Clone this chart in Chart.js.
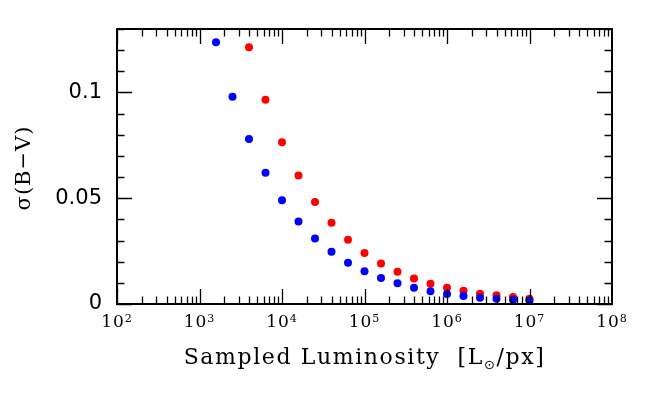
<!DOCTYPE html>
<html>
<head>
<meta charset="utf-8">
<script src="https://cdn.jsdelivr.net/npm/chart.js@4/dist/chart.umd.min.js"></script>
<style>
html, body { margin: 0; padding: 0; background: #fff; }
#wrap { width: 664px; height: 394px; }
</style>
</head>
<body>
<div id="wrap"><canvas id="chartContainer" width="664" height="394"></canvas></div>
<script>
// sampled luminosity (L_sun / px), one point every 0.2 dex
var lumBlue = [1585, 2512, 3981, 6310, 10000, 15849, 25119, 39811, 63096, 100000,
               158489, 251189, 398107, 630957, 1000000, 1584893, 2511886, 3981072, 6309573, 10000000];
var sigmaBlue = [0.1237, 0.098, 0.078, 0.062, 0.049, 0.039, 0.031, 0.0247, 0.0195, 0.0155,
                 0.0123, 0.0098, 0.0077, 0.006, 0.0047, 0.0038, 0.003, 0.0025, 0.002, 0.0016];

var lumRed = [3981, 6310, 10000, 15849, 25119, 39811, 63096, 100000, 158489,
              251189, 398107, 630957, 1000000, 1584893, 2511886, 3981072, 6309573, 10000000];
var sigmaRed = [0.1214, 0.0965, 0.0765, 0.0608, 0.0482, 0.0384, 0.0304, 0.0241, 0.0192,
                0.0153, 0.0121, 0.0096, 0.0077, 0.0063, 0.0049, 0.0041, 0.0033, 0.0025];

// axis ticks
var xDecades = [100, 1000, 10000, 100000, 1000000, 10000000, 100000000];
var xExponents = ['2', '3', '4', '5', '6', '7', '8'];
var yMajorTicks = [0, 0.05, 0.1];
var yTickLabels = ['0', '0.05', '0.1'];

function toPoints(xs, ys) {
    var pts = [];
    for (var i = 0; i < xs.length; i++) {
        pts.push({x: xs[i], y: ys[i]});
    }
    return pts;
}

// frame with inward ticks on all four sides, plus the labels chart.js can't do (superscripts, subscripts)
var frameTicks = {
    id: 'frameTicks',
    afterDraw: function(chart) {
        var ctx = chart.ctx;
        var a = chart.chartArea;
        var xs = chart.scales.x;
        var ys = chart.scales.y;
        ctx.save();
        ctx.strokeStyle = '#000';
        ctx.lineWidth = 1.3;
        ctx.beginPath();
        // x ticks, 1..9 per decade
        for (var d = 0; d < xDecades.length - 1; d++) {
            for (var m = 1; m <= 9; m++) {
                var px = Math.round(xs.getPixelForValue(xDecades[d] * m)) + 0.5;
                var len = (m == 1) ? 15 : 7.5;
                ctx.moveTo(px, a.bottom); ctx.lineTo(px, a.bottom - len);
                ctx.moveTo(px, a.top); ctx.lineTo(px, a.top + len);
            }
        }
        // y ticks every 0.01, major every 0.05
        for (var k = 0; k <= 13; k++) {
            var py = Math.round(ys.getPixelForValue(k / 100)) + 0.5;
            var ylen = (k % 5 == 0) ? 15 : 7.5;
            ctx.moveTo(a.left, py); ctx.lineTo(a.left + ylen, py);
            ctx.moveTo(a.right, py); ctx.lineTo(a.right - ylen, py);
        }
        ctx.stroke();

        ctx.lineWidth = 2;
        ctx.strokeRect(a.left, a.top, a.right - a.left, a.bottom - a.top);

        // x tick labels 10^n
        ctx.fillStyle = '#000';
        ctx.textBaseline = 'alphabetic';
        ctx.textAlign = 'left';
        ctx.letterSpacing = '1px';
        for (var i = 0; i < xDecades.length; i++) {
            var cx = xs.getPixelForValue(xDecades[i]);
            ctx.font = '17px "DejaVu Serif"';
            var w1 = ctx.measureText('10').width;
            ctx.font = '11px "DejaVu Serif"';
            var w2 = ctx.measureText(xExponents[i]).width;
            var x0 = cx - (w1 + w2) / 2;
            ctx.font = '17px "DejaVu Serif"';
            ctx.fillText('10', x0, 327);
            ctx.font = '11px "DejaVu Serif"';
            ctx.fillText(xExponents[i], x0 + w1, 322);
        }

        // x title with subscript sun symbol
        ctx.letterSpacing = '1.6px';
        var big = '22px "DejaVu Serif"', small = '13px "DejaVu Sans"';
        var partA = 'Sampled Luminosity  [L', partB = '\u2299', partC = '/px]';
        ctx.font = big;
        var wa = ctx.measureText(partA).width, wc = ctx.measureText(partC).width;
        ctx.font = small;
        var wb = ctx.measureText(partB).width;
        var tx = (a.left + a.right) / 2 - (wa + wb + wc) / 2;
        ctx.font = big;
        ctx.fillText(partA, tx, 364);
        ctx.font = small;
        ctx.fillText(partB, tx + wa, 369);
        ctx.font = big;
        ctx.fillText(partC, tx + wa + wb, 364);

        // y title
        ctx.letterSpacing = '1px';
        ctx.translate(25, 168);
        ctx.rotate(-Math.PI / 2);
        ctx.textAlign = 'center';
        ctx.textBaseline = 'middle';
        ctx.font = '21px "DejaVu Serif"';
        ctx.fillText('\u03c3(B\u2212V)', 0, 0);
        ctx.restore();
    }
};

var myChart = new Chart('chartContainer', {
    type: 'scatter',
    data: {
        datasets: [{
            label: 'blue',
            data: toPoints(lumBlue, sigmaBlue),
            backgroundColor: '#0000ff',
            borderWidth: 0,
            pointRadius: 4,
            pointHoverRadius: 4
        }, {
            label: 'red',
            data: toPoints(lumRed, sigmaRed),
            backgroundColor: '#ff0000',
            borderWidth: 0,
            pointRadius: 4,
            pointHoverRadius: 4
        }]
    },
    options: {
        responsive: false,
        animation: false,
        events: [],
        layout: { padding: { top: 29, right: 52, left: 0, bottom: 0 } },
        plugins: {
            legend: { display: false },
            tooltip: { enabled: false }
        },
        scales: {
            x: {
                type: 'logarithmic',
                min: 100,
                max: 100000000,
                grid: { display: false, drawTicks: false },
                border: { display: false },
                ticks: { display: false },
                afterFit: function(s) { s.height = 90; }
            },
            y: {
                type: 'linear',
                min: 0,
                max: 0.13,
                grid: { display: false, drawTicks: false },
                border: { display: false },
                afterBuildTicks: function(s) {
                    s.ticks = yMajorTicks.map(function(v) { return {value: v}; });
                },
                ticks: {
                    color: '#000',
                    padding: 15,
                    font: { family: 'DejaVu Sans', size: 21 },
                    callback: function(v, i) { return yTickLabels[i]; }
                },
                afterFit: function(s) { s.width = 117; }
            }
        }
    },
    plugins: [frameTicks]
});
</script>
</body>
</html>
